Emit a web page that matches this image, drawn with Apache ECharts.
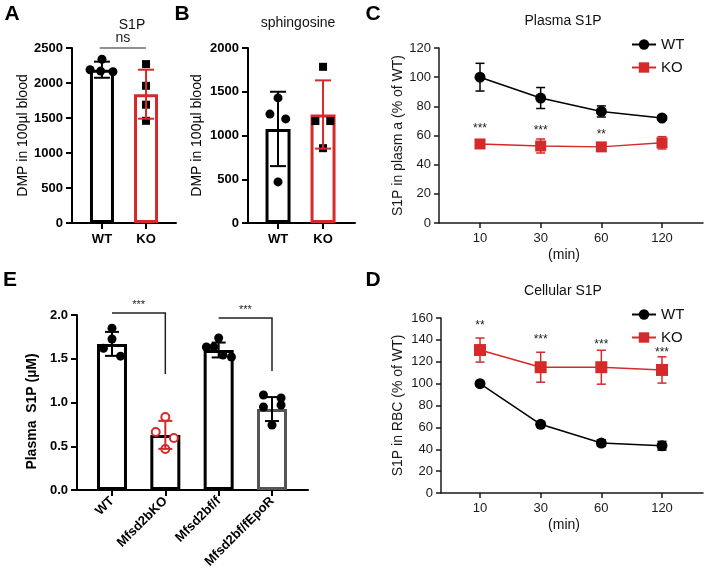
<!DOCTYPE html>
<html><head><meta charset="utf-8">
<script src="https://cdn.jsdelivr.net/npm/echarts@6/dist/echarts.min.js"></script>
<style>html,body{margin:0;padding:0;background:#fff}#c{width:706px;height:577px}</style>
</head><body><div id="c"></div>
<script>
// ---------------- DATA ----------------
const groupsAB = ['WT', 'KO'];
// Panel A: S1P (DMP in 100µl blood)
const aMeans = [2190, 1840];
const aSD = [115, 350];
const aWTpoints = [2340, 2190, 2170, 2160];
const aKOpoints = [2270, 1960, 1690, 1460];
const aYTicks = [0, 500, 1000, 1500, 2000, 2500];
// Panel B: sphingosine
const bMeans = [1075, 1240];
const bSD = [425, 390];
const bWTpoints = [1430, 1245, 1190, 470];
const bKOpoints = [1785, 1165, 1165, 855];
const bYTicks = [0, 500, 1000, 1500, 2000];
// Panel C: Plasma S1P (% of WT)
const times = ['10', '30', '60', '120'];
const cWT = [100, 85.7, 76.5, 72];
const cWTerr = [9.5, 7.2, 3.8, 1.2];
const cKO = [54.2, 52.8, 52.2, 55];
const cKOerr = [2.5, 4.8, 2.2, 4.2];
const cStars = ['***', '***', '**'];
const cStarY = [65, 63, 60.5];
// Panel D: Cellular S1P (% of WT)
const dWT = [100, 62.8, 45.7, 43.2];
const dWTerr = [0.8, 2.5, 3, 4];
const dKO = [130.7, 115, 115, 112.5];
const dKOerr = [11, 13.7, 15.5, 12];
const dStars = ['**', '***', '***', '***'];
const dStarY = [153, 140, 136, 128];
// Panel E: Plasma S1P (µM)
const eGroups = ['WT', 'Mfsd2bKO', 'Mfsd2bf/f', 'Mfsd2bf/fEpoR'];
const eMeans = [1.67, 0.63, 1.60, 0.925];
const eSD = [0.137, 0.16, 0.085, 0.137];
const ePoints = [
  [1.85, 1.726, 1.62, 1.53],
  [0.834, 0.663, 0.594, 0.469],
  [1.737, 1.634, 1.634, 1.543, 1.52],
  [1.086, 1.051, 0.949, 0.971, 0.743]
];
const eYTicks = [0, 0.5, 1.0, 1.5, 2.0];
const eStars = ['***', '***'];

// ---------------- LAYOUT / STYLE ----------------
const RED = '#d42a2a';
const FONT = 'Liberation Sans, Arial, sans-serif';
const jitA = [[0, -0.27, -0.03, 0.25], [0, 0, 0, 0]];
const jitB = [[0, -0.18, 0.17, 0], [0, -0.17, 0.16, 0]];
const jitE = [[0, 0, -0.16, 0.16], [0, -0.18, 0.16, 0], [0, -0.23, -0.09, 0.08, 0.24], [-0.16, 0.17, -0.16, 0.17, 0]];
// brackets: [x1, x2, yLine, yDrop, yText]
const aBracket = [[-0.05, 1.0, 2500, 2500, 2635]];
const eBracket = [[0, 1, 2.023, 1.326, 2.11], [2, 3, 1.966, 1.36, 2.06]];

const boldLab = { fontFamily: FONT, fontWeight: 'bold', fontSize: 13, color: '#000' };

function xBarAxis(gi, min, max, cats, extra) {
  const idx = cats.map((c, i) => i);
  return {
    type: 'value', gridIndex: gi, min, max, splitLine: { show: false },
    axisLine: { show: true, onZero: false, lineStyle: { color: '#000', width: 2 } },
    axisTick: { show: true, customValues: idx, length: 6, lineStyle: { width: 2, color: '#000' } },
    axisLabel: Object.assign({ customValues: idx, formatter: v => cats[Math.round(v)], margin: 10 }, boldLab, extra || {})
  };
}
function yBarAxis(gi, ticks, name, nameGap, fmt, nameStyle) {
  return {
    type: 'value', gridIndex: gi, min: ticks[0], max: ticks[ticks.length - 1], interval: ticks[1] - ticks[0],
    splitLine: { show: false },
    axisLine: { show: true, onZero: false, lineStyle: { color: '#000', width: 2 } },
    axisTick: { show: true, length: 6, lineStyle: { width: 2, color: '#000' } },
    axisLabel: Object.assign({ margin: 9, formatter: fmt || (v => String(v)) }, boldLab),
    name, nameLocation: 'middle', nameGap, nameMoveOverlap: false,
    nameTextStyle: Object.assign({ fontSize: 14, color: '#000', fontFamily: FONT }, nameStyle || {})
  };
}
function xLineAxis(gi, min, max) {
  const idx = times.map((t, i) => i + 1);
  return {
    type: 'value', gridIndex: gi, min, max, splitLine: { show: false },
    axisLine: { show: true, onZero: false, lineStyle: { color: '#1a1a1a', width: 1.5 } },
    axisTick: { show: true, customValues: idx, length: 5, lineStyle: { width: 1.5, color: '#1a1a1a' } },
    axisLabel: { customValues: idx, formatter: v => times[Math.round(v) - 1], margin: 9, fontSize: 13, color: '#1a1a1a', fontFamily: FONT }
  };
}
function yLineAxis(gi, max, name, nameGap) {
  return {
    type: 'value', gridIndex: gi, min: 0, max, interval: 20, splitLine: { show: false },
    axisLine: { show: true, onZero: false, lineStyle: { color: '#1a1a1a', width: 1.5 } },
    axisTick: { show: true, length: 5, lineStyle: { width: 1.5, color: '#1a1a1a' } },
    axisLabel: { margin: 8, fontSize: 13, color: '#1a1a1a', fontFamily: FONT },
    name, nameLocation: 'middle', nameGap, nameMoveOverlap: false,
    nameTextStyle: { fontSize: 14, color: '#1a1a1a', fontFamily: FONT }
  };
}
function bars(ai, means, bw, colors, bwidth) {
  return {
    type: 'bar', xAxisIndex: ai, yAxisIndex: ai, barWidth: bw, z: 2, silent: true,
    data: means.map((m, i) => ({ value: [i, m], itemStyle: { color: 'rgba(255,255,255,0)', borderColor: colors[i], borderWidth: bwidth } }))
  };
}
function errBars(ai, xs, means, sds, colors, cap, lw, z) {
  return {
    type: 'custom', xAxisIndex: ai, yAxisIndex: ai, z: z, silent: true,
    data: means.map((m, i) => [xs[i], m - sds[i], m + sds[i]]),
    renderItem(params, api) {
      const x = api.value(0);
      const lo = api.coord([x, api.value(1)]), hi = api.coord([x, api.value(2)]);
      const st = { stroke: colors[params.dataIndex], lineWidth: lw };
      return { type: 'group', children: [
        { type: 'line', shape: { x1: lo[0], y1: lo[1], x2: hi[0], y2: hi[1] }, style: st },
        { type: 'line', shape: { x1: lo[0] - cap, y1: lo[1], x2: lo[0] + cap, y2: lo[1] }, style: st },
        { type: 'line', shape: { x1: hi[0] - cap, y1: hi[1], x2: hi[0] + cap, y2: hi[1] }, style: st }
      ] };
    }
  };
}
function dots(ai, groupIdx, pts, jit, symbol, size, style) {
  return {
    type: 'scatter', xAxisIndex: ai, yAxisIndex: ai, symbol, symbolSize: size, z: 4, silent: true,
    data: pts.map((v, j) => [groupIdx + jit[j], v]), itemStyle: Object.assign({ opacity: 1 }, style)
  };
}
function brackets(ai, list, texts, fontSize, lw) {
  return {
    type: 'custom', xAxisIndex: ai, yAxisIndex: ai, z: 6, silent: true, clip: false,
    data: list,
    renderItem(params, api) {
      const p1 = api.coord([api.value(0), api.value(2)]);
      const p2 = api.coord([api.value(1), api.value(2)]);
      const p3 = api.coord([api.value(1), api.value(3)]);
      const pt = api.coord([(api.value(0) + api.value(1)) / 2, api.value(4)]);
      return { type: 'group', children: [
        { type: 'polyline', shape: { points: [p1, p2, p3] }, style: { stroke: '#222', lineWidth: lw, fill: null } },
        { type: 'text', x: pt[0], y: pt[1], style: { text: texts[params.dataIndex], fontSize, fontFamily: FONT, fill: '#222', align: 'center', verticalAlign: 'middle' } }
      ] };
    }
  };
}
function starText(ai, ys, texts) {
  return {
    type: 'custom', xAxisIndex: ai, yAxisIndex: ai, z: 6, silent: true, clip: false,
    data: ys.map((y, i) => [i + 1, y]),
    renderItem(params, api) {
      const p = api.coord([api.value(0), api.value(1)]);
      return { type: 'text', x: p[0], y: p[1], style: { text: texts[params.dataIndex], fontSize: 12, fontFamily: FONT, fill: '#222', align: 'center', verticalAlign: 'middle' } };
    }
  };
}
function lineSeries(ai, name, vals, color, symbol, size) {
  return {
    type: 'line', name, xAxisIndex: ai, yAxisIndex: ai, z: 5, silent: true,
    data: vals.map((v, i) => [i + 1, v]), symbol, symbolSize: size,
    lineStyle: { color, width: 1.5 }, itemStyle: { color, opacity: 1 }
  };
}

const gridBase = { outerBoundsMode: 'none', containLabel: false };
const legendBase = { data: ['WT', 'KO'], orient: 'vertical', left: 626, itemWidth: 24, itemHeight: 13, itemGap: 8, selectedMode: false,
  textStyle: { fontSize: 15, color: '#111', fontFamily: FONT } };
const option = {
  animation: false,
  textStyle: { fontFamily: FONT },
  grid: [
    Object.assign({ left: 72, top: 48, width: 104, height: 175 }, gridBase),
    Object.assign({ left: 248, top: 48, width: 107, height: 175 }, gridBase),
    Object.assign({ left: 439, top: 48, width: 264, height: 175 }, gridBase),
    Object.assign({ left: 441, top: 318, width: 262, height: 175 }, gridBase),
    Object.assign({ left: 77, top: 315, width: 231, height: 175 }, gridBase)
  ],
  xAxis: [
    xBarAxis(0, -0.68, 1.68, groupsAB),
    xBarAxis(1, -0.667, 1.71, groupsAB),
    xLineAxis(2, 0.324, 4.676),
    xLineAxis(3, 0.357, 4.676),
    xBarAxis(4, -0.656, 3.675, eGroups, { rotate: 45, margin: 9 })
  ],
  yAxis: [
    yBarAxis(0, aYTicks, 'DMP in 100µl blood', 42),
    yBarAxis(1, bYTicks, 'DMP in 100µl blood', 44),
    yLineAxis(2, 120, 'S1P in plasm a (% of WT)', 34),
    yLineAxis(3, 160, 'S1P in RBC (% of WT)', 36),
    yBarAxis(4, eYTicks, 'Plasma  S1P (µM)', 38, v => v.toFixed(1), { fontWeight: 'bold', padding: [0, 18, 0, 0] })
  ],
  legend: [
    Object.assign({ top: 32 }, legendBase),
    Object.assign({ top: 302 }, legendBase)
  ],
  graphic: [
    { type: 'text', x: 12, y: 14, style: { text: 'A', fontSize: 21, fontWeight: 'bold', fontFamily: FONT, fill: '#000', align: 'center', verticalAlign: 'middle' } },
    { type: 'text', x: 182, y: 14, style: { text: 'B', fontSize: 21, fontWeight: 'bold', fontFamily: FONT, fill: '#000', align: 'center', verticalAlign: 'middle' } },
    { type: 'text', x: 373, y: 14, style: { text: 'C', fontSize: 21, fontWeight: 'bold', fontFamily: FONT, fill: '#000', align: 'center', verticalAlign: 'middle' } },
    { type: 'text', x: 373, y: 280, style: { text: 'D', fontSize: 21, fontWeight: 'bold', fontFamily: FONT, fill: '#000', align: 'center', verticalAlign: 'middle' } },
    { type: 'text', x: 10, y: 280, style: { text: 'E', fontSize: 21, fontWeight: 'bold', fontFamily: FONT, fill: '#000', align: 'center', verticalAlign: 'middle' } },
    { type: 'text', x: 132, y: 25, style: { text: 'S1P', fontSize: 14, fontFamily: FONT, fill: '#111', align: 'center', verticalAlign: 'middle' } },
    { type: 'text', x: 298, y: 23, style: { text: 'sphingosine', fontSize: 14, fontFamily: FONT, fill: '#111', align: 'center', verticalAlign: 'middle' } },
    { type: 'text', x: 563, y: 21, style: { text: 'Plasma S1P', fontSize: 14, fontFamily: FONT, fill: '#111', align: 'center', verticalAlign: 'middle' } },
    { type: 'text', x: 563, y: 291, style: { text: 'Cellular S1P', fontSize: 14, fontFamily: FONT, fill: '#111', align: 'center', verticalAlign: 'middle' } },
    { type: 'text', x: 564, y: 255, style: { text: '(min)', fontSize: 14, fontFamily: FONT, fill: '#111', align: 'center', verticalAlign: 'middle' } },
    { type: 'text', x: 564, y: 525, style: { text: '(min)', fontSize: 14, fontFamily: FONT, fill: '#111', align: 'center', verticalAlign: 'middle' } }
  ],
  series: [
    // A
    bars(0, aMeans, 24, ['#000', RED], 3),
    dots(0, 0, aWTpoints, jitA[0], 'circle', 9, { color: '#000' }),
    dots(0, 1, aKOpoints, jitA[1], 'rect', 8, { color: '#000' }),
    errBars(0, [0, 1], aMeans, aSD, ['#000', RED], 8, 2, 5),
    brackets(0, aBracket, ['ns'], 14, 1.2),
    // B
    bars(1, bMeans, 25, ['#000', RED], 3),
    dots(1, 0, bWTpoints, jitB[0], 'circle', 9, { color: '#000' }),
    dots(1, 1, bKOpoints, jitB[1], 'rect', 8, { color: '#000' }),
    errBars(1, [0, 1], bMeans, bSD, ['#000', RED], 8, 2, 5),
    // C
    errBars(2, [1, 2, 3, 4], cWT, cWTerr, ['#000', '#000', '#000', '#000'], 4.5, 1.5, 3),
    errBars(2, [1, 2, 3, 4], cKO, cKOerr, [RED, RED, RED, RED], 4.5, 1.5, 3),
    lineSeries(2, 'WT', cWT, '#000', 'circle', 11),
    lineSeries(2, 'KO', cKO, RED, 'rect', 11),
    starText(2, cStarY, cStars),
    // D
    errBars(3, [1, 2, 3, 4], dWT, dWTerr, ['#000', '#000', '#000', '#000'], 4.5, 1.5, 3),
    errBars(3, [1, 2, 3, 4], dKO, dKOerr, [RED, RED, RED, RED], 4.5, 1.5, 3),
    lineSeries(3, 'WT', dWT, '#000', 'circle', 11),
    lineSeries(3, 'KO', dKO, RED, 'rect', 12),
    starText(3, dStarY, dStars),
    // E
    bars(4, eMeans, 30, ['#000', '#000', '#000', '#555'], 3),
    dots(4, 0, ePoints[0], jitE[0], 'circle', 9, { color: '#000' }),
    dots(4, 1, ePoints[1], jitE[1], 'circle', 8, { color: '#fff', borderColor: RED, borderWidth: 2 }),
    dots(4, 2, ePoints[2], jitE[2], 'circle', 9, { color: '#000' }),
    dots(4, 3, ePoints[3], jitE[3], 'circle', 9, { color: '#000' }),
    errBars(4, [0, 1, 2, 3], eMeans, eSD, ['#000', RED, '#000', '#000'], 7, 2, 5),
    brackets(4, eBracket, eStars, 11, 1.5)
  ]
};
const chart = echarts.init(document.getElementById('c'), null, { renderer: 'canvas' });
chart.setOption(option);
</script>
</body></html>
